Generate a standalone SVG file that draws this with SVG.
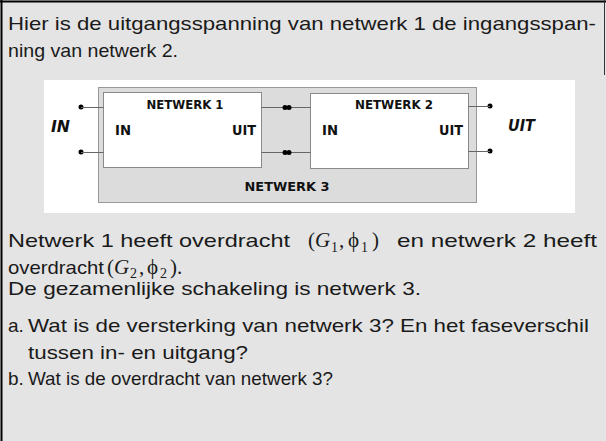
<svg xmlns="http://www.w3.org/2000/svg" width="606" height="441" viewBox="0 0 606 441">
<style>
.t{font-family:"Liberation Sans Narrow","Liberation Sans",Arial,sans-serif;font-size:19px;fill:#1a1a1a}
.m{font-family:"Liberation Serif","Times New Roman",serif;font-size:21px;fill:#1a1a1a}
.mi{font-family:"Liberation Serif","Times New Roman",serif;font-size:21px;font-style:italic;fill:#1a1a1a}
.ms{font-family:"Liberation Serif","Times New Roman",serif;font-size:14px;fill:#1a1a1a}
.b{font-family:"DejaVu Sans Condensed","DejaVu Sans",sans-serif;font-weight:bold;font-size:13px;fill:#111}
.bl{font-family:"DejaVu Sans Condensed","DejaVu Sans",sans-serif;font-weight:bold;font-size:14px;fill:#111}
.bi{font-family:"DejaVu Sans Condensed","DejaVu Sans",sans-serif;font-weight:bold;font-style:italic;font-size:15px;fill:#111}
.w{stroke:#666;stroke-width:1}
.box{fill:#fff;stroke:#8a8a8a;stroke-width:1}
</style>
<rect x="0" y="0" width="606" height="441" fill="#e4e4e4"/>
<line x1="1.5" y1="0" x2="1.5" y2="441" stroke="#000" stroke-width="2"/>
<line x1="0" y1="1.5" x2="606" y2="1.5" stroke="#000" stroke-width="2"/>
<line x1="604.5" y1="0" x2="604.5" y2="75" stroke="#333" stroke-width="1"/>
<text class="t" x="8" y="30" textLength="588" lengthAdjust="spacingAndGlyphs">Hier is de uitgangsspanning van netwerk 1 de ingangsspan-</text>
<text class="t" x="8" y="57" textLength="170" lengthAdjust="spacingAndGlyphs">ning van netwerk 2.</text>
<rect x="44" y="80" width="531" height="133" fill="#fff"/>
<g id="netwerk3">
<rect x="98.5" y="87.5" width="378" height="115" fill="#dcdcdc" stroke="#999"/>
<text class="b" x="287" y="191" text-anchor="middle" font-size="14.5" textLength="85" lengthAdjust="spacingAndGlyphs">NETWERK 3</text>
</g>
<g id="netwerk1">
<rect class="box" x="103.5" y="92.5" width="158" height="75"/>
<text class="b" x="185" y="109" text-anchor="middle" textLength="77" lengthAdjust="spacingAndGlyphs">NETWERK 1</text>
<text class="bl" x="115" y="135" textLength="16" lengthAdjust="spacingAndGlyphs">IN</text>
<text class="bl" x="232" y="135" textLength="24" lengthAdjust="spacingAndGlyphs">UIT</text>
</g>
<g id="netwerk2">
<rect class="box" x="310.5" y="93.5" width="158" height="75"/>
<text class="b" x="394" y="109" text-anchor="middle" textLength="78" lengthAdjust="spacingAndGlyphs">NETWERK 2</text>
<text class="bl" x="322" y="135" textLength="16" lengthAdjust="spacingAndGlyphs">IN</text>
<text class="bl" x="439" y="135" textLength="24" lengthAdjust="spacingAndGlyphs">UIT</text>
</g>
<g id="in">
<text class="bi" x="51" y="132" textLength="19" lengthAdjust="spacingAndGlyphs">IN</text>
<circle cx="81" cy="107" r="2.5" fill="#000"/>
<circle cx="81" cy="152" r="2.5" fill="#000"/>
</g>
<g id="uit">
<text class="bi" x="508" y="131" textLength="27" lengthAdjust="spacingAndGlyphs">UIT</text>
<circle cx="490" cy="106" r="2.5" fill="#000"/>
<circle cx="490" cy="151" r="2.5" fill="#000"/>
</g>
<g id="connectors">
<line class="w" x1="81" y1="107.5" x2="103.5" y2="107.5"/>
<line class="w" x1="81" y1="152.5" x2="103.5" y2="152.5"/>
<line class="w" x1="261.5" y1="107.5" x2="310.5" y2="107.5"/>
<line class="w" x1="261.5" y1="152.5" x2="310.5" y2="152.5"/>
<line class="w" x1="468.5" y1="106.5" x2="490" y2="106.5"/>
<line class="w" x1="468.5" y1="151.5" x2="490" y2="151.5"/>
<circle cx="285" cy="107.5" r="2.5" fill="#000"/>
<circle cx="289" cy="107.5" r="2.5" fill="#000"/>
<circle cx="285" cy="152.5" r="2.5" fill="#000"/>
<circle cx="289" cy="152.5" r="2.5" fill="#000"/>
</g>
<text class="t" x="8" y="247" textLength="282" lengthAdjust="spacingAndGlyphs">Netwerk 1 heeft overdracht</text>
<text class="m" x="308" y="247">(</text>
<text class="mi" x="315" y="247">G</text>
<text class="ms" x="331" y="252">1</text>
<text class="m" x="339" y="247">,</text>
<text class="m" x="348" y="247">ϕ</text>
<text class="ms" x="361" y="252">1</text>
<text class="m" x="372" y="247">)</text>
<text class="t" x="397" y="247" textLength="200" lengthAdjust="spacingAndGlyphs">en netwerk 2 heeft</text>
<text class="t" x="8" y="274" textLength="96" lengthAdjust="spacingAndGlyphs">overdracht</text>
<text class="m" x="107" y="274">(</text>
<text class="mi" x="114" y="274">G</text>
<text class="ms" x="130" y="278">2</text>
<text class="m" x="139" y="274">,</text>
<text class="m" x="147" y="274">ϕ</text>
<text class="ms" x="160" y="278">2</text>
<text class="m" x="170" y="274">).</text>
<text class="t" x="8" y="295" textLength="413" lengthAdjust="spacingAndGlyphs">De gezamenlijke schakeling is netwerk 3.</text>
<text class="t" x="8" y="332">a.</text>
<text class="t" x="28" y="332" textLength="561" lengthAdjust="spacingAndGlyphs">Wat is de versterking van netwerk 3? En het faseverschil</text>
<text class="t" x="28" y="359" textLength="220" lengthAdjust="spacingAndGlyphs">tussen in- en uitgang?</text>
<text class="t" x="8" y="385">b.</text>
<text class="t" x="28" y="385" textLength="305" lengthAdjust="spacingAndGlyphs">Wat is de overdracht van netwerk 3?</text>
</svg>
